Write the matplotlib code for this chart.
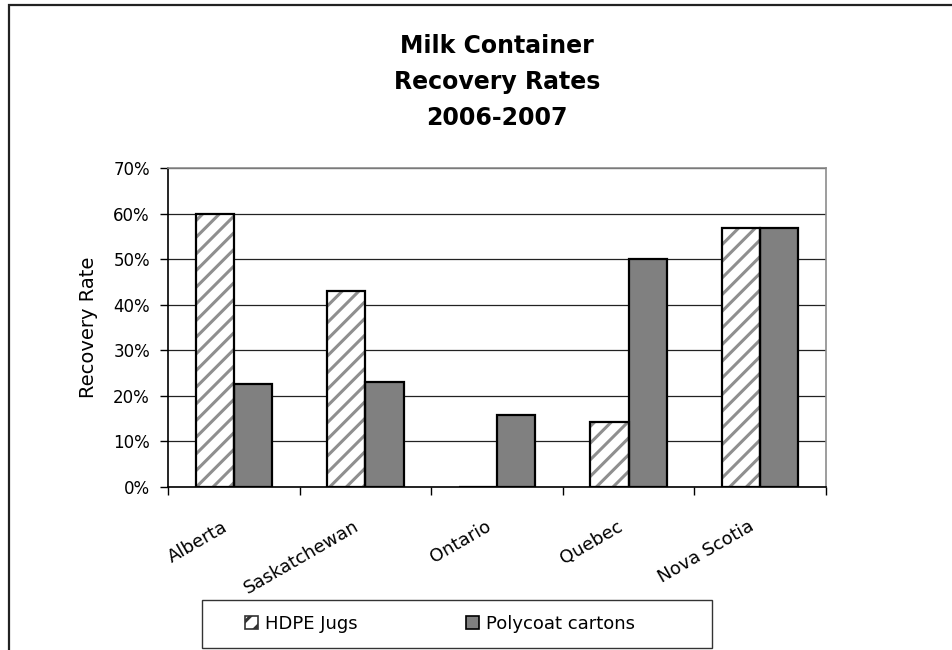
import numpy as np
import matplotlib
matplotlib.use("Agg")
import matplotlib.pyplot as plt
import matplotlib.patches as mp
from matplotlib.transforms import ScaledTranslation

plt.rcParams.update({"font.family": "DejaVu Sans", "hatch.linewidth": 2.2})

provinces = ["Alberta", "Saskatchewan", "Ontario", "Quebec", "Nova Scotia"]
hdpe_jugs = [0.60, 0.43, 0.0, 0.143, 0.568]
polycoat_cartons = [0.225, 0.23, 0.158, 0.50, 0.568]
series_names = ["HDPE Jugs", "Polycoat cartons"]
title_lines = ["Milk Container", "Recovery Rates", "2006-2007"]
yticks = [0, 0.1, 0.2, 0.3, 0.4, 0.5, 0.6, 0.7]

W, H = 953, 650
fig = plt.figure(figsize=(W/100, H/100), dpi=100)
ax = fig.add_axes([168/W, 1-487/H, 658/W, 319/H])

x = np.arange(len(provinces))
bw = 0.29
# hatched series: gray stripes first, black outline on top
ax.bar(x-bw/2, hdpe_jugs, bw, color="white", edgecolor="#8f8f8f", hatch="//", lw=0, zorder=3)
ax.bar(x-bw/2, hdpe_jugs, bw, fill=False, edgecolor="black", lw=1.6, zorder=4)
ax.bar(x+bw/2, polycoat_cartons, bw, color="#808080", edgecolor="black", lw=1.6, zorder=3)

ax.set_xlim(-0.5, len(provinces)-0.5)
ax.set_ylim(0, 0.7)
ax.set_yticks(yticks)
ax.set_yticklabels([f"{int(round(v*100))}%" for v in yticks], fontsize=12)
ax.yaxis.grid(True, color="#222222", lw=0.9, zorder=0)
ax.set_ylabel("Recovery Rate", fontsize=14)
ax.yaxis.set_label_coords(-0.106, 0.5)

# category labels centred on the groups, ticks on the boundaries
ax.set_xticks(x)
ax.set_xticklabels(provinces, rotation=30, ha="right", va="top",
                   rotation_mode="anchor", fontsize=13)
ax.tick_params(axis="x", which="major", length=0, pad=22)
shift = ScaledTranslation(-12/100, 0, fig.dpi_scale_trans)
for lab in ax.get_xticklabels():
    lab.set_transform(lab.get_transform() + shift)
ax.set_xticks(np.arange(len(provinces)+1)-0.5, minor=True)
ax.tick_params(axis="x", which="minor", length=6, width=1, direction="out")
ax.tick_params(axis="y", length=6, width=1, direction="out", pad=7)

for s in ["left", "bottom"]:
    ax.spines[s].set_color("black"); ax.spines[s].set_linewidth(1.2)
for s in ["right", "top"]:
    ax.spines[s].set_color("#8c8c8c"); ax.spines[s].set_linewidth(1.2)

fig.text(497/W, 1-34/H, "\n".join(title_lines), ha="center", va="top",
         fontsize=17, fontweight="bold", linespacing=1.62)

# legend entries without frame, box drawn separately
h1 = mp.Patch(facecolor="white", edgecolor="#333333", hatch="//", lw=1.2)
h2 = mp.Patch(facecolor="#808080", edgecolor="black", lw=1.2)
fig.legend([h1, h2], series_names, loc="center", ncol=2,
           bbox_to_anchor=(440/W, 1-624/H), fontsize=13, frameon=False,
           handlelength=0.7, handleheight=0.7, columnspacing=6.0,
           handletextpad=0.4, borderpad=0.2, borderaxespad=0)
fig.patches.append(mp.Rectangle((202/W, 1-648/H), 510/W, 48/H, transform=fig.transFigure,
                                fill=False, edgecolor="#333333", lw=1.0))

# outer chart border (right and bottom edges lie past the canvas)
fig.patches.append(mp.Rectangle((9/W, -0.1), 1.2, 1.1-5/H, transform=fig.transFigure,
                                fill=False, edgecolor="#222222", lw=1.6))

fig.savefig("out.png", dpi=100)
